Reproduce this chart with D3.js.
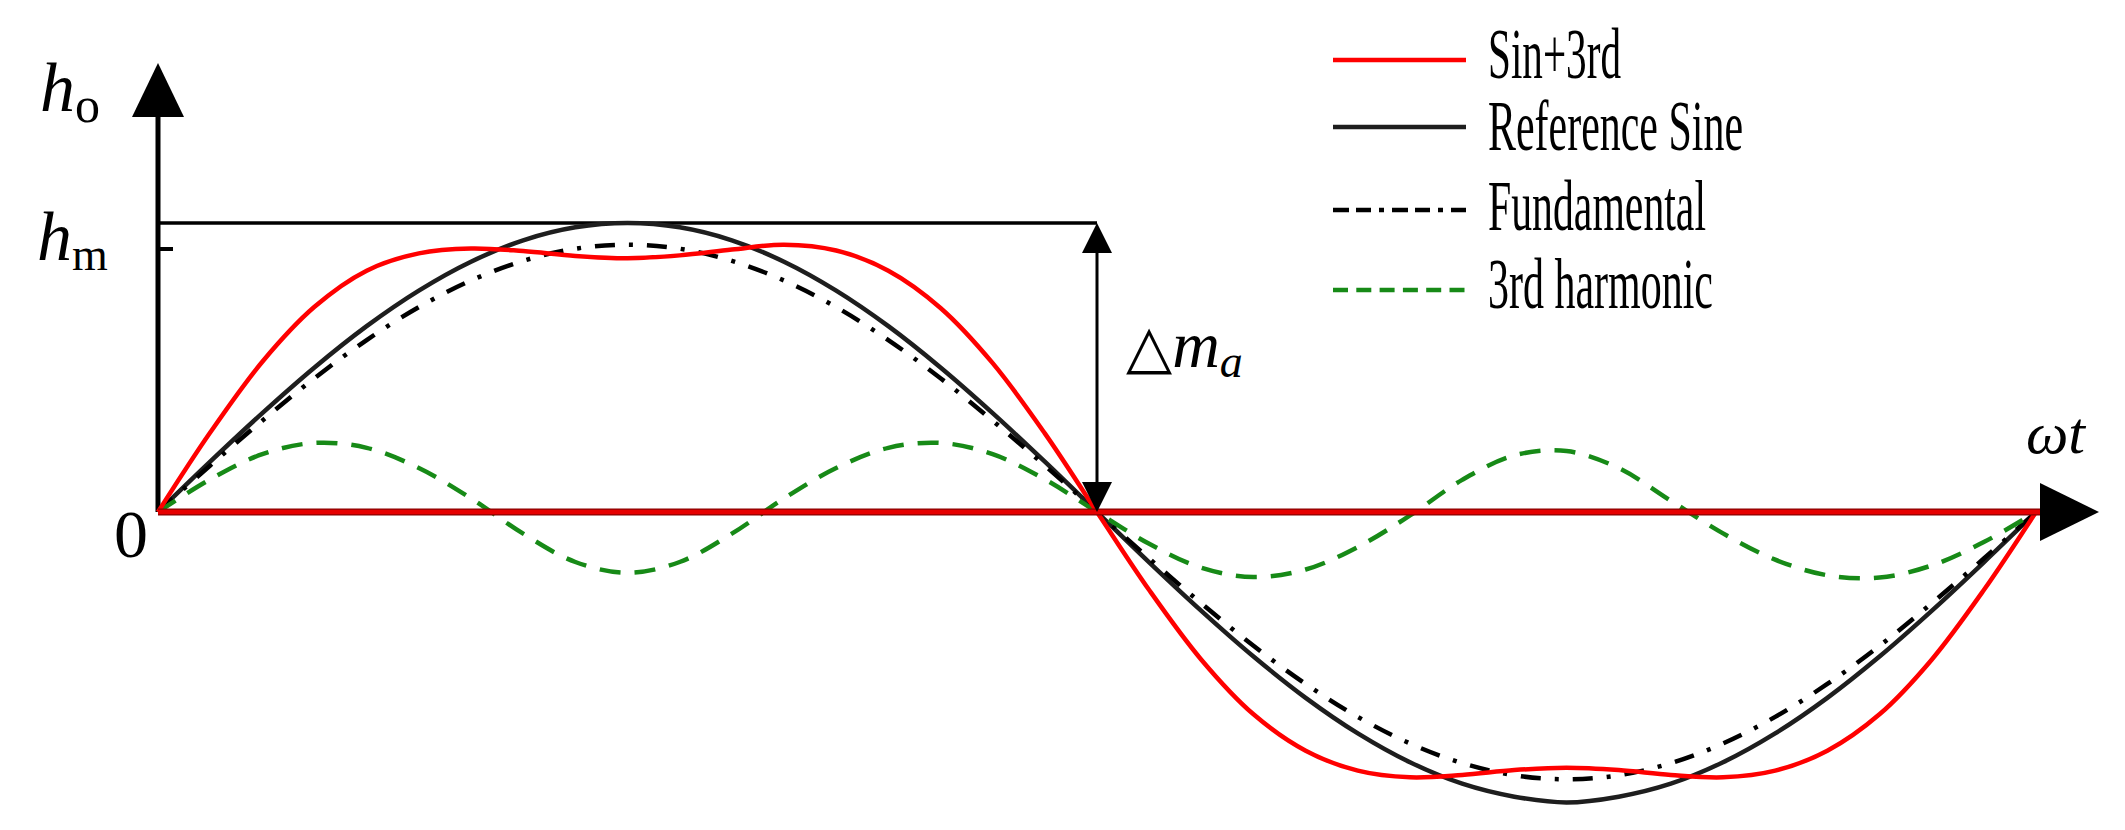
<!DOCTYPE html>
<html><head><meta charset="utf-8">
<script src="https://cdn.jsdelivr.net/npm/d3@7"></script>
<style>html,body{margin:0;padding:0;background:#fff;} svg{display:block}</style>
</head><body>
<svg id="chart" width="2125" height="830"></svg>
<script>
// ---- data (phase angle in degrees, amplitude relative to reference sine peak) ----
const angles = [0,10,20,30,40,50,60,70,80,90,100,110,120,130,140,150,160,170,180,
  190,200,210,220,230,240,250,260,270,280,290,300,310,320,330,340,350,360];
const sin3rd = [0,.275,.52,.71,.835,.895,.912,.903,.886,.878,.888,.908,.925,.905,.835,.706,.515,.272,0,
  -.270,-.511,-.700,-.826,-.895,-.918,-.910,-.893,-.885,-.893,-.910,-.918,-.895,-.826,-.700,-.511,-.270,0];
const refSine = [0,.174,.342,.5,.643,.766,.866,.94,.985,1,.985,.94,.866,.766,.643,.5,.342,.174,0,
  -.174,-.342,-.5,-.643,-.766,-.866,-.94,-.985,-1.005,-.985,-.94,-.866,-.766,-.643,-.5,-.342,-.174,0];
const fundamental = [0,.161,.316,.463,.595,.709,.801,.869,.911,.925,.911,.869,.801,.709,.595,.463,.316,.161,0,
  -.161,-.316,-.463,-.595,-.709,-.801,-.869,-.911,-.925,-.911,-.869,-.801,-.709,-.595,-.463,-.316,-.161,0];
const harmonic3 = [0,.113,.2,.239,.222,.152,.047,-.075,-.173,-.21,-.173,-.075,.047,.152,.222,.239,.2,.113,0,
  -.11,-.193,-.225,-.199,-.121,-.012,.111,.196,.211,.152,.039,-.074,-.165,-.219,-.227,-.185,-.104,0];
const seriesNames = ["Sin+3rd","Reference Sine","Fundamental","3rd harmonic"];
const hmLevel = 0.91;     // h_m marker level
const peakLevel = 1.0;    // reference peak (Δm_a upper bound)
const deltaAngle = 180;   // where the Δm_a arrow is drawn

// ---- layout ----
const svg = d3.select("#chart");
const x = d3.scaleLinear().domain([0,360]).range([158,2036]);
const y = d3.scaleLinear().domain([0,1]).range([512,223]);
const serif = "'Liberation Serif','Times New Roman',serif";

const styles = [
  {name:seriesNames[0], data:sin3rd, color:"#ff0000", dash:null, w:4.5, legDash:null},
  {name:seriesNames[1], data:refSine, color:"#1e1e1e", dash:null, w:4.5, legDash:null},
  {name:seriesNames[2], data:fundamental, color:"#000", dash:"20,14,4,14", w:4.5, legDash:"16,7,15,8,5,8"},
  {name:seriesNames[3], data:harmonic3, color:"#178a17", dash:"21,14", w:4.5, legDash:"15,8.3"}
];

// axes
const x0 = x(0), yz = y(0);
svg.append("line").attr("x1",x0).attr("x2",x0).attr("y1",yz).attr("y2",112)
  .attr("stroke","#000").attr("stroke-width",5);
svg.append("path").attr("d",`M${x0-26},117 L${x0+26},117 L${x0},63 Z`).attr("fill","#000");

// top reference line and h_m tick
svg.append("line").attr("x1",x0).attr("x2",x(deltaAngle)).attr("y1",y(peakLevel)).attr("y2",y(peakLevel))
  .attr("stroke","#000").attr("stroke-width",3.5);
svg.append("line").attr("x1",x0).attr("x2",x0+15).attr("y1",y(hmLevel)).attr("y2",y(hmLevel))
  .attr("stroke","#000").attr("stroke-width",4);

// curves
const line = d3.line().x((d,i)=>x(angles[i])).y(d=>y(d)).curve(d3.curveCatmullRom.alpha(0.5));
const order = [1,2,3,0];
order.forEach(k=>{
  const s = styles[k];
  svg.append("path").attr("d",line(s.data)).attr("fill","none").attr("stroke",s.color)
    .attr("stroke-width",s.w).attr("stroke-dasharray",s.dash).attr("stroke-linejoin","round");
});

// x axis (red zero line over black)
svg.append("line").attr("x1",x0).attr("x2",2042).attr("y1",yz).attr("y2",yz)
  .attr("stroke","#8a0000").attr("stroke-width",7);
svg.append("line").attr("x1",x0).attr("x2",2042).attr("y1",yz).attr("y2",yz)
  .attr("stroke","#e60000").attr("stroke-width",4.5);
svg.append("path").attr("d",`M2040,${yz-29} L2040,${yz+29} L2099,${yz} Z`).attr("fill","#000");

// Δm_a double arrow
const xa = x(deltaAngle);
svg.append("line").attr("x1",xa).attr("x2",xa).attr("y1",y(peakLevel)+10).attr("y2",yz-10)
  .attr("stroke","#000").attr("stroke-width",3);
svg.append("path").attr("d",`M${xa-15},253 L${xa+15},253 L${xa},${y(peakLevel)} Z`).attr("fill","#000");
svg.append("path").attr("d",`M${xa-15},482 L${xa+15},482 L${xa},${yz} Z`).attr("fill","#000");

// labels
const hm = svg.append("text").attr("x",37).attr("y",260).attr("font-family",serif).attr("font-size",70);
hm.append("tspan").attr("font-style","italic").text("h");
hm.append("tspan").attr("font-size",46).attr("dy",10).text("m");

const ho = svg.append("text").attr("x",40).attr("y",111).attr("font-family",serif).attr("font-size",70);
ho.append("tspan").attr("font-style","italic").text("h");
ho.append("tspan").attr("font-size",50).attr("dy",11).text("o");

svg.append("text").attr("x",131).attr("y",557).attr("text-anchor","middle")
  .attr("font-family",serif).attr("font-size",68).text("0");

svg.append("text").attr("x",2026).attr("y",453).attr("font-family",serif).attr("font-size",60)
  .attr("font-style","italic").text("ωt");

const dm = svg.append("text").attr("x",1126).attr("y",367).attr("font-family",serif).attr("font-size",66);
dm.append("tspan").attr("font-family","'DejaVu Sans',sans-serif").attr("font-size",60).text("△");
dm.append("tspan").attr("font-style","italic").text("m");
dm.append("tspan").attr("font-style","italic").attr("font-size",46).attr("dy",10).text("a");

// legend
const legY = [60,127,210,290];
const legBase = [78,150,230,308];
const legW = [133,255,218,225];
styles.forEach((s,i)=>{
  svg.append("line").attr("x1",1333).attr("x2",1466).attr("y1",legY[i]).attr("y2",legY[i])
    .attr("stroke",s.color).attr("stroke-width",4.5).attr("stroke-dasharray",s.legDash);
  svg.append("text").attr("x",1488).attr("y",legBase[i]).attr("font-family",serif).attr("font-size",72)
    .attr("textLength",legW[i]).attr("lengthAdjust","spacingAndGlyphs").text(s.name);
});
</script>
</body></html>
